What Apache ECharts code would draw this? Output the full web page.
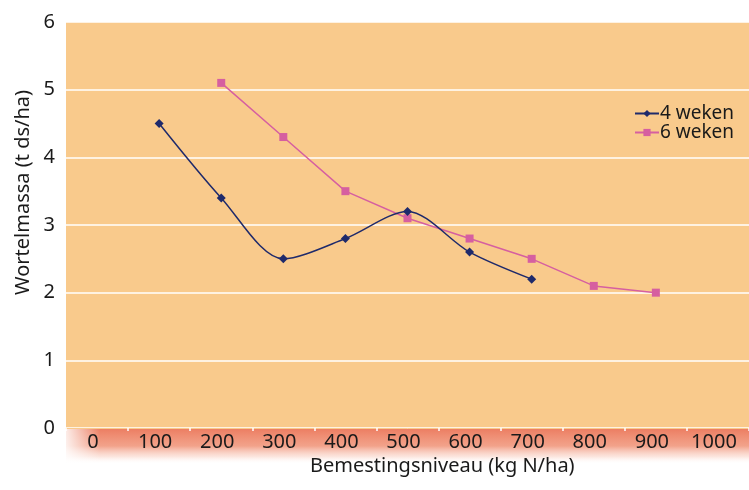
<!DOCTYPE html>
<html><head><meta charset="utf-8">
<script src="https://cdn.jsdelivr.net/npm/echarts@6/dist/echarts.min.js"></script>
<style>html,body{margin:0;padding:0;background:#fff}#c{width:749px;height:490px}</style>
</head><body><div id="c"></div>
<script>
const categories = ['0','100','200','300','400','500','600','700','800','900','1000'];
const weken4 = [null, 4.5, 3.4, 2.5, 2.8, 3.2, 2.6, 2.2, null, null, null];
const weken6 = [null, null, 5.1, 4.3, 3.5, 3.1, 2.8, 2.5, 2.1, 2.0, null];
const yTicks = [0, 1, 2, 3, 4, 5, 6];

const FONT = "'Noto Sans','Open Sans',sans-serif";
const chart = echarts.init(document.getElementById('c'));
chart.setOption({
  animation: false,
  backgroundColor: '#ffffff',
  graphic: [
    { type: 'rect', z: -2, shape: { x: 66, y: 428, width: 700, height: 36 },
      style: { fill: new echarts.graphic.LinearGradient(0, 0, 0, 1, [
        { offset: 0, color: 'rgba(236,124,96,1)' },
        { offset: 0.5, color: 'rgba(240,146,118,0.85)' },
        { offset: 0.8, color: 'rgba(248,200,185,0.45)' },
        { offset: 1, color: 'rgba(255,255,255,0)' }]) } },
    { type: 'rect', z: -1, shape: { x: 60, y: 428, width: 40, height: 38 },
      style: { fill: new echarts.graphic.LinearGradient(0, 0, 1, 0, [
        { offset: 0, color: 'rgba(255,255,255,1)' },
        { offset: 1, color: 'rgba(255,255,255,0)' }]) } },
    { type: 'text', z: 10, left: 310, top: 456,
      style: { text: 'Bemestingsniveau (kg N/ha)', font: '20px ' + FONT, fill: '#1a1a1a' } },
    { type: 'text', z: 10, x: 13, y: 295, rotation: Math.PI / 2,
      style: { text: 'Wortelmassa (t ds/ha)', font: '20px ' + FONT, fill: '#1a1a1a' } }
  ],
  grid: { left: 66, right: 0, top: 22, bottom: 62, show: true, backgroundColor: '#F9CA8C',
          borderWidth: 0 },
  legend: {
    orient: 'vertical', left: 629, top: 99, itemGap: 0, itemWidth: 24, itemHeight: 9,
    textStyle: { fontSize: 19, fontFamily: FONT, color: '#1a1a1a', padding: [0,0,0,-4], lineHeight: 19 },
    data: ['4 weken', '6 weken']
  },
  xAxis: {
    type: 'category', data: categories, boundaryGap: true,
    axisLine: { show: true, lineStyle: { color: '#F9CA8C' } },
    axisTick: { show: true, length: 3, lineStyle: { color: '#ffffff', width: 1.5 } },
    axisLabel: { fontSize: 20, fontFamily: FONT, color: '#1a1a1a', margin: 4, padding: [0, 8, 0, 0] },
    splitLine: { show: false }
  },
  yAxis: {
    type: 'value', min: 0, max: 6, interval: 1,
    axisLine: { show: false }, axisTick: { show: false },
    axisLabel: { fontSize: 20, fontFamily: FONT, color: '#1a1a1a', margin: 11,
                 formatter: v => yTicks.includes(v) ? String(v) : '' },
    splitLine: { show: true, lineStyle: { color: '#ffffff', width: 1.5 } }
  },
  series: [
    { name: '4 weken', type: 'line', data: weken4, smooth: 0.3, connectNulls: false,
      symbol: 'diamond', symbolSize: 9,
      itemStyle: { color: '#1F2A6B' }, lineStyle: { color: '#1F2A6B', width: 1.5 }, z: 3 },
    { name: '6 weken', type: 'line', data: weken6,
      symbol: 'rect', symbolSize: 8,
      itemStyle: { color: '#D65FA0' }, lineStyle: { color: '#D65FA0', width: 1.5 }, z: 2 }
  ]
});
</script></body></html>
